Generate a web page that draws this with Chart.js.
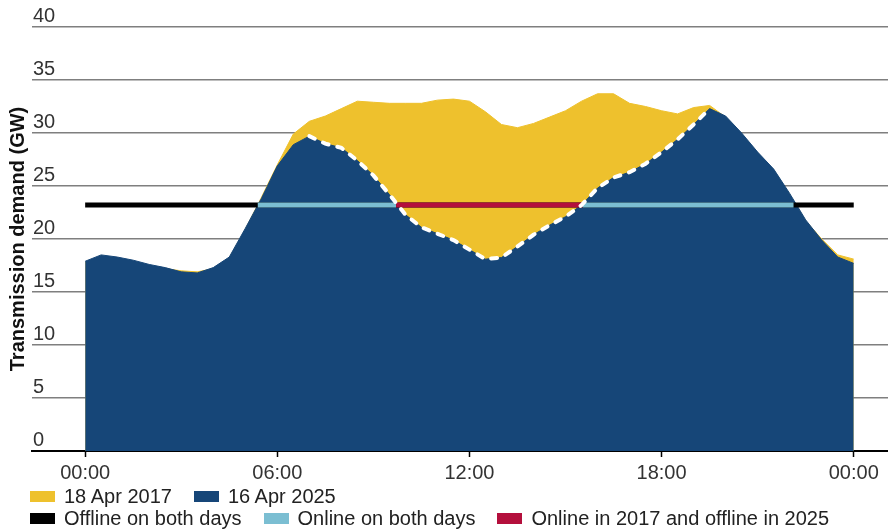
<!DOCTYPE html>
<html>
<head>
<meta charset="utf-8">
<script src="https://cdn.jsdelivr.net/npm/chart.js@4"></script>
<style>
  body { margin: 0; background: #fff; }
  #wrap { position: relative; width: 888px; height: 529px; }
  .legend-row {
    position: absolute; left: 30px; height: 20px;
    display: flex; align-items: center; white-space: nowrap;
    font: 20px "Liberation Sans", Arial, sans-serif; color: #222;
  }
  .item { display: flex; align-items: center; margin-right: 22px; }
  .swatch { width: 25px; height: 11px; margin-right: 9px; }
</style>
</head>
<body>
<div id="wrap">
  <canvas id="myChart"></canvas>
  <div class="legend-row" id="row1" style="top:486px"></div>
  <div class="legend-row" id="row2" style="top:508px"></div>
</div>
<script>
// half-hourly readings, hours after midnight
const hours = [0, 0.5, 1, 1.5, 2, 2.5, 3, 3.5, 4, 4.5, 5, 5.5, 6, 6.5, 7, 7.5, 8, 8.5, 9, 9.5,
  10, 10.5, 11, 11.5, 12, 12.5, 13, 13.5, 14, 14.5, 15, 15.5, 16, 16.5, 17, 17.5, 18, 18.5,
  19, 19.5, 20, 20.5, 21, 21.5, 22, 22.5, 23, 23.5, 24];

// transmission demand, GW
const demand2017 = [17.8, 18.4, 18.2, 17.9, 17.5, 17.2, 17.0, 16.9, 17.2, 18.2, 20.9, 23.9, 27.0,
  29.9, 31.1, 31.6, 32.3, 33.0, 32.9, 32.8, 32.8, 32.8, 33.1, 33.2, 33.0, 32.0, 30.8, 30.5, 30.9,
  31.5, 32.1, 33.0, 33.7, 33.7, 32.8, 32.5, 32.1, 31.8, 32.4, 32.6, 31.5, 29.9, 28.1, 26.5, 24.2,
  21.7, 20.0, 18.5, 18.1];
const demand2025 = [17.9, 18.5, 18.3, 18.0, 17.6, 17.3, 16.9, 16.8, 17.3, 18.3, 21.0, 23.8, 26.9,
  28.9, 29.7, 29.0, 28.6, 27.4, 26.0, 24.2, 22.3, 21.1, 20.5, 19.9, 19.0, 18.1, 18.25, 19.3, 20.4,
  21.3, 22.1, 23.2, 24.8, 25.8, 26.3, 27.1, 28.2, 29.4, 30.8, 32.3, 31.6, 30.0, 28.2, 26.6, 24.3,
  21.8, 19.9, 18.3, 17.7];

// plant threshold and when it runs (hours)
const thresholdGW = 23.2;
const offlineBoth = [[0, 24]];
const onlineBoth = [[5.39, 9.71], [15.53, 22.12]];
const online2017Only = [[9.71, 15.53]];
const dashedFrom = 7, dashedTo = 19.5; // 2025 below 2017

const xTicks = [0, 6, 12, 18, 24];

const BLUE = '#164678', YELLOW = '#eec12d', LIGHTBLUE = '#7bbed2', RED = '#b40f3c', BLACK = '#000';
const FONT = '"Liberation Sans", Arial, sans-serif';

function series(vals) {
  return hours.map((h, i) => ({x: h, y: vals[i]}));
}
function spans(list) {
  const pts = [];
  list.forEach(([a, b], k) => {
    if (k > 0) pts.push({x: a, y: null});
    pts.push({x: a, y: thresholdGW}, {x: b, y: thresholdGW});
  });
  return pts;
}
const dashed = hours.map((h, i) => ({x: h, y: (h >= dashedFrom && h <= dashedTo) ? demand2025[i] : null}));

const flat = {pointRadius: 0, tension: 0, borderCapStyle: 'butt', fill: false};

const data = {
  datasets: [
    {...flat, label: 'gap', data: dashed, borderColor: '#fff', borderWidth: 4,
      borderDash: [6, 9], borderCapStyle: 'round'},
    {...flat, label: 'Online in 2017 and offline in 2025', data: spans(online2017Only), borderColor: RED, borderWidth: 5},
    {...flat, label: 'Online on both days', data: spans(onlineBoth), borderColor: LIGHTBLUE, borderWidth: 5},
    {...flat, label: 'Offline on both days', data: spans(offlineBoth), borderColor: BLACK, borderWidth: 5},
    {...flat, label: '16 Apr 2025', data: series(demand2025), borderColor: BLUE, backgroundColor: BLUE,
      borderWidth: 1, fill: 'origin'},
    {...flat, label: '18 Apr 2017', data: series(demand2017), borderColor: YELLOW, backgroundColor: YELLOW,
      borderWidth: 1, fill: 'origin'}
  ]
};

const config = {
  type: 'line',
  data: data,
  options: {
    responsive: true,
    maintainAspectRatio: false,
    animation: false,
    layout: {padding: {top: 27, right: 0, bottom: 40, left: 0}},
    plugins: {legend: {display: false}, tooltip: {enabled: false}},
    scales: {
      x: {
        type: 'linear', min: -1.66, max: 25.07,
        afterBuildTicks: s => { s.ticks = xTicks.map(v => ({value: v})); },
        grid: {drawOnChartArea: false, drawTicks: true, tickLength: 6, color: BLACK, tickWidth: 1.5},
        border: {display: true, color: BLACK, width: 2},
        ticks: {
          padding: 4, color: '#333', font: {family: FONT, size: 20}, maxRotation: 0,
          callback: v => String(v % 24).padStart(2, '0') + ':00'
        }
      },
      y: {
        min: 0, max: 40,
        grid: {drawTicks: false, color: '#7f7f7f', lineWidth: 1.5},
        border: {display: false},
        ticks: {stepSize: 5, mirror: true, padding: 1, labelOffset: -11, color: '#333',
          font: {family: FONT, size: 20}},
        title: {display: true, text: 'Transmission demand (GW)', color: '#111',
          font: {family: FONT, size: 20, weight: 'bold'}, padding: {top: 6, bottom: 0}}
      }
    }
  }
};

const myChart = new Chart(document.getElementById('myChart'), config);

// legend in two rows like the original
const legendRows = [
  [['18 Apr 2017', YELLOW], ['16 Apr 2025', BLUE]],
  [['Offline on both days', BLACK], ['Online on both days', LIGHTBLUE], ['Online in 2017 and offline in 2025', RED]]
];
legendRows.forEach((row, r) => {
  const el = document.getElementById('row' + (r + 1));
  row.forEach(([text, colour]) => {
    const item = document.createElement('div');
    item.className = 'item';
    item.innerHTML = '<span class="swatch" style="background:' + colour + '"></span><span>' + text + '</span>';
    el.appendChild(item);
  });
});
</script>
</body>
</html>
